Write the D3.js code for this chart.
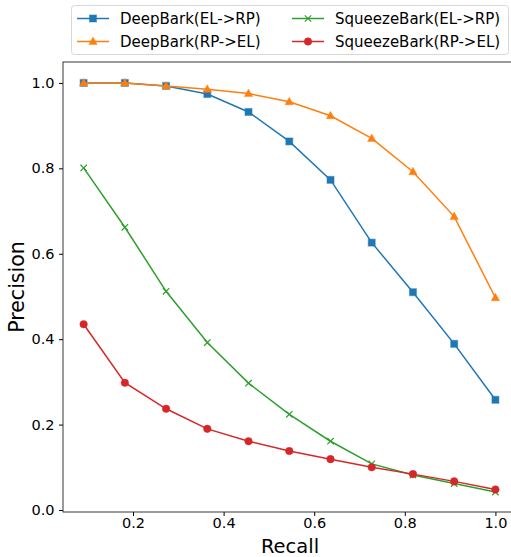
<!DOCTYPE html>
<html>
<head>
<meta charset="utf-8">
<script src="https://cdn.jsdelivr.net/npm/d3@7"></script>
<style>
  body { margin: 0; background: #fff; }
  svg { display: block; font-family: "DejaVu Sans", sans-serif; }
</style>
</head>
<body>
<div id="chart"></div>
<script>
// Recall values (x axis)
const recall = [0.091, 0.182, 0.273, 0.364, 0.455, 0.545, 0.636, 0.727, 0.818, 0.909, 1.0];

// Precision series
const deepElRp = [1.0, 1.0, 0.993, 0.974, 0.932, 0.863, 0.773, 0.626, 0.510, 0.389, 0.258];
const deepRpEl = [1.0, 1.0, 0.993, 0.985, 0.975, 0.956, 0.923, 0.870, 0.792, 0.687, 0.497];
const squeezeElRp = [0.801, 0.662, 0.512, 0.392, 0.297, 0.224, 0.161, 0.108, 0.082, 0.062, 0.042];
const squeezeRpEl = [0.435, 0.298, 0.237, 0.190, 0.161, 0.138, 0.119, 0.100, 0.084, 0.067, 0.048];

const seriesNames = ["DeepBark(EL->RP)", "DeepBark(RP->EL)", "SqueezeBark(EL->RP)", "SqueezeBark(RP->EL)"];
const xTicks = [0.2, 0.4, 0.6, 0.8, 1.0];
const yTicks = [0.0, 0.2, 0.4, 0.6, 0.8, 1.0];

const series = [
    { name: seriesNames[0], values: deepElRp, color: "#1f77b4", marker: "square" },
    { name: seriesNames[1], values: deepRpEl, color: "#ff7f0e", marker: "triangle" },
    { name: seriesNames[2], values: squeezeElRp, color: "#2ca02c", marker: "x" },
    { name: seriesNames[3], values: squeezeRpEl, color: "#d62728", marker: "circle" }
];

const width = 511, height = 557;
const plotLeft = 63, plotRight = 516, plotTop = 62, plotBottom = 512;

const svg = d3.select("#chart").append("svg")
    .attr("width", width)
    .attr("height", height);

const x = d3.scaleLinear().domain([0.04545, 1.04545]).range([plotLeft, plotRight]);
const y = d3.scaleLinear().domain([-0.0047, 1.049]).range([plotBottom, plotTop]);

// Axes
svg.append("g")
    .attr("transform", `translate(0,${plotBottom})`)
    .call(d3.axisBottom(x).tickValues(xTicks).tickFormat(d3.format(".1f")).tickSizeOuter(0).tickSize(4).tickPadding(2))
    .call(g => g.select(".domain").remove())
    .call(g => g.selectAll("text").attr("font-size", 14.5).attr("fill", "#000").attr("font-family", "DejaVu Sans"));

svg.append("g")
    .attr("transform", `translate(${plotLeft},0)`)
    .call(d3.axisLeft(y).tickValues(yTicks).tickFormat(d3.format(".1f")).tickSizeOuter(0).tickSize(4).tickPadding(4.5))
    .call(g => g.select(".domain").remove())
    .call(g => g.selectAll("text").attr("font-size", 14.5).attr("fill", "#000").attr("font-family", "DejaVu Sans"));

// Frame
svg.append("rect")
    .attr("x", plotLeft).attr("y", plotTop)
    .attr("width", plotRight - plotLeft).attr("height", plotBottom - plotTop)
    .attr("fill", "none").attr("stroke", "#222").attr("stroke-width", 0.9);

// Axis labels
svg.append("text")
    .attr("x", 290).attr("y", 553)
    .attr("text-anchor", "middle").attr("font-size", 19.5)
    .text("Recall");

svg.append("text")
    .attr("transform", `translate(24,${(plotTop + plotBottom) / 2}) rotate(-90)`)
    .attr("text-anchor", "middle").attr("font-size", 20.5)
    .text("Precision");

// Marker drawing
function drawMarker(g, type, color, cx, cy) {
    if (type === "square") {
        g.append("rect").attr("x", cx - 3.5).attr("y", cy - 3.5).attr("width", 7).attr("height", 7)
            .attr("fill", color).attr("stroke", color).attr("stroke-opacity", 0.4).attr("stroke-width", 1.2);
    } else if (type === "triangle") {
        g.append("path").attr("d", `M${cx},${cy - 4.5}L${cx + 4.2},${cy + 3}L${cx - 4.2},${cy + 3}Z`)
            .attr("fill", color).attr("stroke", color).attr("stroke-opacity", 0.4).attr("stroke-width", 1);
    } else if (type === "circle") {
        g.append("circle").attr("cx", cx).attr("cy", cy).attr("r", 3.8)
            .attr("fill", color).attr("stroke", color).attr("stroke-opacity", 0.4).attr("stroke-width", 1);
    } else if (type === "x") {
        g.append("path").attr("d", `M${cx - 3.2},${cy - 3.2}L${cx + 3.2},${cy + 3.2}M${cx - 3.2},${cy + 3.2}L${cx + 3.2},${cy - 3.2}`)
            .attr("stroke", color).attr("stroke-width", 1.2).attr("fill", "none");
    }
}

const line = d3.line().x(d => x(d[0])).y(d => y(d[1]));

series.forEach(s => {
    const pts = recall.map((r, i) => [r, s.values[i]]);
    const g = svg.append("g");
    g.append("path").datum(pts)
        .attr("d", line)
        .attr("fill", "none")
        .attr("stroke", s.color)
        .attr("stroke-width", 1.5);
    pts.forEach(p => drawMarker(g, s.marker, s.color, x(p[0]), y(p[1])));
});

// Legend
const legend = svg.append("g");
legend.append("rect")
    .attr("x", 71.5).attr("y", 5.5).attr("width", 437).attr("height", 49)
    .attr("rx", 3).attr("fill", "#fff").attr("fill-opacity", 0.8)
    .attr("stroke", "#d8d8d8").attr("stroke-width", 1);

series.forEach((s, i) => {
    const col = Math.floor(i / 2), row = i % 2;
    const lx = col === 0 ? 77 : 292;
    const ly = row === 0 ? 18.5 : 41.5;
    const g = legend.append("g");
    g.append("line").attr("x1", lx).attr("x2", lx + 32).attr("y1", ly).attr("y2", ly)
        .attr("stroke", s.color).attr("stroke-width", 1.5);
    drawMarker(g, s.marker, s.color, lx + 16, ly);
    g.append("text").attr("x", lx + 43).attr("y", ly + 5.5)
        .attr("font-size", 15).attr("fill", "#000")
        .text(s.name);
});
</script>
</body>
</html>
